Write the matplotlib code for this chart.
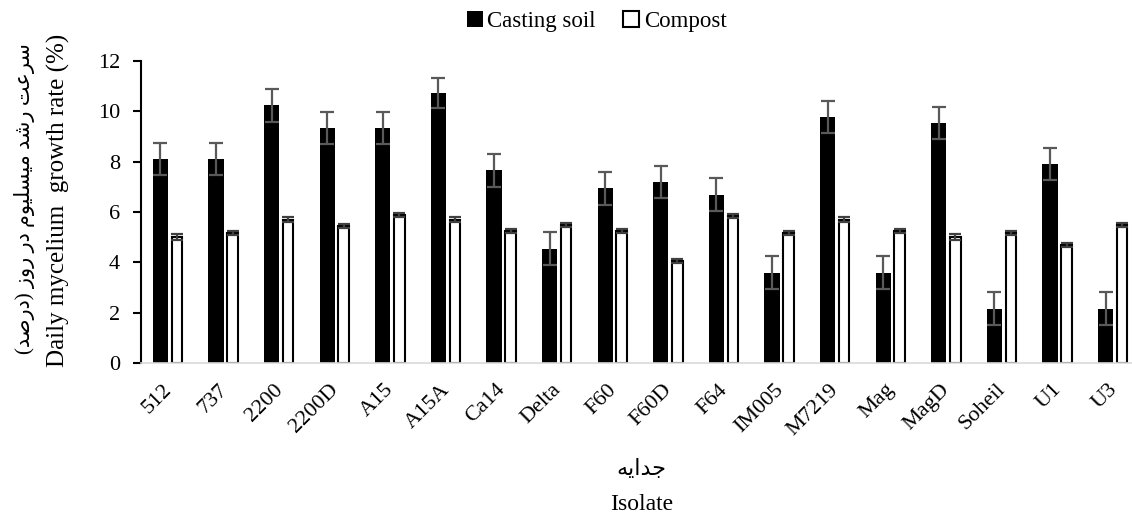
import matplotlib
matplotlib.use('Agg')
import matplotlib.pyplot as plt
import numpy as np

isolates = ['512', '737', '2200', '2200D', 'A15', 'A15A', 'Ca14', 'Delta', 'F60',
            'F60D', 'F64', 'IM005', 'M7219', 'Mag', 'MagD', 'Soheil', 'U1', 'U3']
casting_soil = [8.1, 8.1, 10.23, 9.32, 9.32, 10.73, 7.66, 4.54, 6.94,
                7.18, 6.68, 3.59, 9.77, 3.59, 9.53, 2.16, 7.89, 2.16]
casting_err = [0.65, 0.65, 0.65, 0.63, 0.63, 0.6, 0.65, 0.65, 0.65,
               0.63, 0.65, 0.65, 0.63, 0.65, 0.63, 0.65, 0.63, 0.65]
compost = [5.0, 5.15, 5.7, 5.45, 5.9, 5.7, 5.25, 5.48, 5.25,
           4.05, 5.83, 5.15, 5.7, 5.25, 5.0, 5.15, 4.71, 5.48]
compost_err = [0.12, 0.08, 0.1, 0.08, 0.08, 0.1, 0.08, 0.08, 0.08,
               0.08, 0.08, 0.08, 0.1, 0.08, 0.12, 0.08, 0.08, 0.08]
yticks = [0, 2, 4, 6, 8, 10, 12]

# Persian labels written in visual order with Arabic presentation forms
fa_ylabel = ("(" + "\uFEAA\uFEBB\uFEAD\uFEA9" + ") " + "\uFEAF\uFEED\uFEAD" + " "
             + "\uFEAD\uFEA9" + " " + "\uFEE1\uFEEE\uFBFF\uFEE0\uFEB4\uFBFF\uFEE3" + " "
             + "\uFEAA\uFEB7\uFEAD" + " " + "\uFE96\uFECB\uFEAE\uFEB3")
fa_xlabel = "\uFEEA\uFBFE\uFE8D\uFEAA\uFE9F"
en_ylabel = "Daily mycelium  growth rate (%)"
en_xlabel = "Isolate"

plt.rcParams['font.family'] = ['Liberation Serif', 'DejaVu Sans']

W, H = 1132, 520
fig = plt.figure(figsize=(W / 100, H / 100), dpi=100)
ax = fig.add_axes([141 / W, 156.7 / H, 1000.8 / W, 302.6 / H])

x = np.arange(len(isolates))
ekw = dict(ecolor='#595959', elinewidth=1.6, capsize=5, capthick=1.6)
ax.bar(x - 0.151, casting_soil, width=0.275, color='black', edgecolor='black',
       linewidth=0, yerr=casting_err, error_kw=ekw, label='Casting soil')
ekw2 = dict(ecolor='#404040', elinewidth=1.6, capsize=4, capthick=1.6)
ax.bar(x + 0.147, compost, width=0.19, color='white', edgecolor='black',
       linewidth=1.5, yerr=compost_err, error_kw=ekw2, label='Compost')

ax.set_xlim(-0.5, len(isolates) - 0.5)
ax.set_ylim(0, 12)
ax.set_yticks(yticks)
ax.set_yticklabels([str(v) for v in yticks], fontsize=16)
ax.set_xticks(x)
ax.set_xticklabels(isolates, fontsize=16, rotation=45, ha='right', va='center',
                   rotation_mode='anchor')
ax.tick_params(axis='x', length=0, pad=17)
ax.tick_params(axis='y', length=6, width=1.5, pad=9)

for s in ['top', 'right']:
    ax.spines[s].set_visible(False)
ax.spines['left'].set_linewidth(1.5)
ax.spines['bottom'].set_color('#d9d9d9')
ax.spines['bottom'].set_linewidth(1.2)

fig.legend(loc='center', bbox_to_anchor=(0.527, 0.958), ncol=2, frameon=False,
           fontsize=16.5, handlelength=0.7, handleheight=0.7, handletextpad=0.2,
           columnspacing=1.2)

fig.text(25 / W, 1 - 199 / H, fa_ylabel, rotation=90, ha='center', va='center', fontsize=15)
fig.text(58 / W, 1 - 200 / H, en_ylabel, rotation=90, ha='center', va='center', fontsize=18)
fig.text(641.5 / W, 1 - 470 / H, fa_xlabel, ha='center', va='center', fontsize=16)
fig.text(641.5 / W, 1 - 504 / H, en_xlabel, ha='center', va='center', fontsize=17)

fig.savefig('out.png', dpi=100)
